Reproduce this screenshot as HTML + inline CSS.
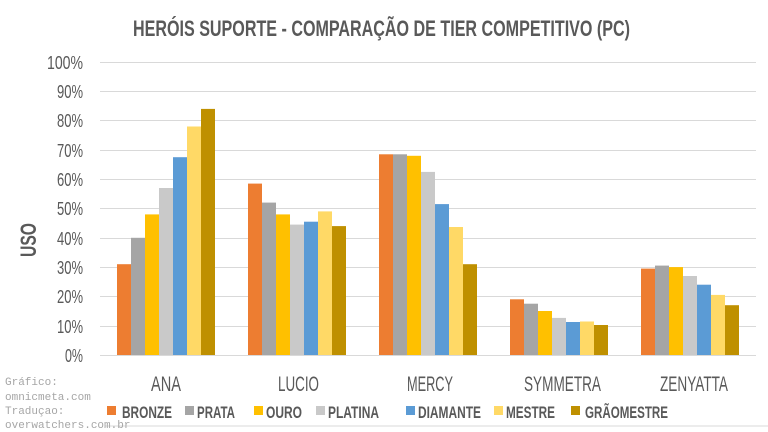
<!DOCTYPE html>
<html><head><meta charset="utf-8"><style>
html,body{margin:0;padding:0;background:#fff;}
svg{display:block;}
.c{font-family:"Liberation Sans Narrow","Liberation Sans",sans-serif;font-weight:bold;fill:#595959;}
.n{font-family:"Liberation Sans Narrow","Liberation Sans",sans-serif;fill:#595959;}
.m{font-family:"Liberation Mono",monospace;fill:#a6a6a6;font-size:11px;}
</style></head><body>
<svg width="768" height="432" viewBox="0 0 768 432">
<rect x="0" y="0" width="768" height="432" fill="#fff"/>
<line x1="105" y1="426" x2="768" y2="426" stroke="#d9d9d9"/>
<text class="c" x="133" y="36" font-size="22" textLength="497" lengthAdjust="spacingAndGlyphs">HERÓIS SUPORTE - COMPARAÇÃO DE TIER COMPETITIVO (PC)</text>
<g stroke="#d9d9d9" stroke-width="1">
<line x1="100" y1="62.5" x2="756" y2="62.5"/><line x1="100" y1="91.5" x2="756" y2="91.5"/>
<line x1="100" y1="120.5" x2="756" y2="120.5"/><line x1="100" y1="150.5" x2="756" y2="150.5"/>
<line x1="100" y1="179.5" x2="756" y2="179.5"/><line x1="100" y1="208.5" x2="756" y2="208.5"/>
<line x1="100" y1="238.5" x2="756" y2="238.5"/><line x1="100" y1="267.5" x2="756" y2="267.5"/>
<line x1="100" y1="296.5" x2="756" y2="296.5"/><line x1="100" y1="326.5" x2="756" y2="326.5"/>
<line x1="100" y1="355.5" x2="756" y2="355.5"/>
</g>
<g class="n" font-size="18">
<text x="47" y="69" textLength="36" lengthAdjust="spacingAndGlyphs">100%</text>
<text x="57" y="98" textLength="26" lengthAdjust="spacingAndGlyphs">90%</text>
<text x="57" y="127" textLength="26" lengthAdjust="spacingAndGlyphs">80%</text>
<text x="57" y="157" textLength="26" lengthAdjust="spacingAndGlyphs">70%</text>
<text x="57" y="186" textLength="26" lengthAdjust="spacingAndGlyphs">60%</text>
<text x="57" y="215" textLength="26" lengthAdjust="spacingAndGlyphs">50%</text>
<text x="57" y="245" textLength="26" lengthAdjust="spacingAndGlyphs">40%</text>
<text x="57" y="274" textLength="26" lengthAdjust="spacingAndGlyphs">30%</text>
<text x="57" y="303" textLength="26" lengthAdjust="spacingAndGlyphs">20%</text>
<text x="57" y="333" textLength="26" lengthAdjust="spacingAndGlyphs">10%</text>
<text x="65" y="362" textLength="18" lengthAdjust="spacingAndGlyphs">0%</text>
</g>
<text class="c" font-size="22" transform="translate(36,240) rotate(-90)" text-anchor="middle" textLength="34" lengthAdjust="spacingAndGlyphs">USO</text>
<g class="n" font-size="21">
<text x="151" y="391" textLength="30" lengthAdjust="spacingAndGlyphs">ANA</text>
<text x="278" y="391" textLength="41" lengthAdjust="spacingAndGlyphs">LUCIO</text>
<text x="407" y="391" textLength="46" lengthAdjust="spacingAndGlyphs">MERCY</text>
<text x="524" y="391" textLength="77" lengthAdjust="spacingAndGlyphs">SYMMETRA</text>
<text x="660" y="391" textLength="68" lengthAdjust="spacingAndGlyphs">ZENYATTA</text>
</g>
<text class="m" x="5" y="385">Gráfico:</text>
<text class="m" x="5" y="400">omnicmeta.com</text>
<text class="m" x="5" y="414">Traduçao:</text>
<text class="m" x="5" y="428">overwatchers.com.br</text>
<g class="c" font-size="17">
<rect x="107" y="406" width="9" height="9" fill="#ED7D31"/><text x="122" y="418" textLength="50" lengthAdjust="spacingAndGlyphs">BRONZE</text>
<rect x="185" y="406" width="9" height="9" fill="#A5A5A5"/><text x="197" y="418" textLength="38" lengthAdjust="spacingAndGlyphs">PRATA</text>
<rect x="254" y="406" width="9" height="9" fill="#FFC000"/><text x="266" y="418" textLength="36" lengthAdjust="spacingAndGlyphs">OURO</text>
<rect x="316" y="406" width="9" height="9" fill="#C9C9C9"/><text x="328" y="418" textLength="51" lengthAdjust="spacingAndGlyphs">PLATINA</text>
<rect x="406" y="406" width="9" height="9" fill="#5B9BD5"/><text x="418" y="418" textLength="63" lengthAdjust="spacingAndGlyphs">DIAMANTE</text>
<rect x="494" y="406" width="9" height="9" fill="#FFD966"/><text x="506" y="418" textLength="49" lengthAdjust="spacingAndGlyphs">MESTRE</text>
<rect x="571" y="406" width="9" height="9" fill="#BF9000"/><text x="585" y="418" textLength="83" lengthAdjust="spacingAndGlyphs">GRÃOMESTRE</text>
</g>
<g>
<rect x="117" y="264.2" width="14" height="90.8" fill="#ED7D31"/>
<rect x="131" y="237.8" width="14" height="117.2" fill="#A5A5A5"/>
<rect x="145" y="214.4" width="14" height="140.6" fill="#FFC000"/>
<rect x="159" y="188.0" width="14" height="167.0" fill="#C9C9C9"/>
<rect x="173" y="157.2" width="14" height="197.8" fill="#5B9BD5"/>
<rect x="187" y="126.5" width="14" height="228.5" fill="#FFD966"/>
<rect x="201" y="108.9" width="14" height="246.1" fill="#BF9000"/>
<rect x="248" y="183.6" width="14" height="171.4" fill="#ED7D31"/>
<rect x="262" y="202.6" width="14" height="152.4" fill="#A5A5A5"/>
<rect x="276" y="214.4" width="14" height="140.6" fill="#FFC000"/>
<rect x="290" y="224.6" width="14" height="130.4" fill="#C9C9C9"/>
<rect x="304" y="221.7" width="14" height="133.3" fill="#5B9BD5"/>
<rect x="318" y="211.4" width="14" height="143.6" fill="#FFD966"/>
<rect x="332" y="226.1" width="14" height="128.9" fill="#BF9000"/>
<rect x="379" y="154.3" width="14" height="200.7" fill="#ED7D31"/>
<rect x="393" y="154.3" width="14" height="200.7" fill="#A5A5A5"/>
<rect x="407" y="155.8" width="14" height="199.2" fill="#FFC000"/>
<rect x="421" y="171.9" width="14" height="183.1" fill="#C9C9C9"/>
<rect x="435" y="204.1" width="14" height="150.9" fill="#5B9BD5"/>
<rect x="449" y="227.0" width="14" height="128.0" fill="#FFD966"/>
<rect x="463" y="264.2" width="14" height="90.8" fill="#BF9000"/>
<rect x="510" y="299.3" width="14" height="55.7" fill="#ED7D31"/>
<rect x="524" y="303.7" width="14" height="51.3" fill="#A5A5A5"/>
<rect x="538" y="311.0" width="14" height="44.0" fill="#FFC000"/>
<rect x="552" y="317.9" width="14" height="37.1" fill="#C9C9C9"/>
<rect x="566" y="322.0" width="14" height="33.0" fill="#5B9BD5"/>
<rect x="580" y="321.5" width="14" height="33.5" fill="#FFD966"/>
<rect x="594" y="325.0" width="14" height="30.0" fill="#BF9000"/>
<rect x="641" y="268.6" width="14" height="86.4" fill="#ED7D31"/>
<rect x="655" y="265.6" width="14" height="89.4" fill="#A5A5A5"/>
<rect x="669" y="267.1" width="14" height="87.9" fill="#FFC000"/>
<rect x="683" y="276.0" width="14" height="79.0" fill="#C9C9C9"/>
<rect x="697" y="284.7" width="14" height="70.3" fill="#5B9BD5"/>
<rect x="711" y="294.9" width="14" height="60.1" fill="#FFD966"/>
<rect x="725" y="305.2" width="14" height="49.8" fill="#BF9000"/>
</g>
</svg>
</body></html>
